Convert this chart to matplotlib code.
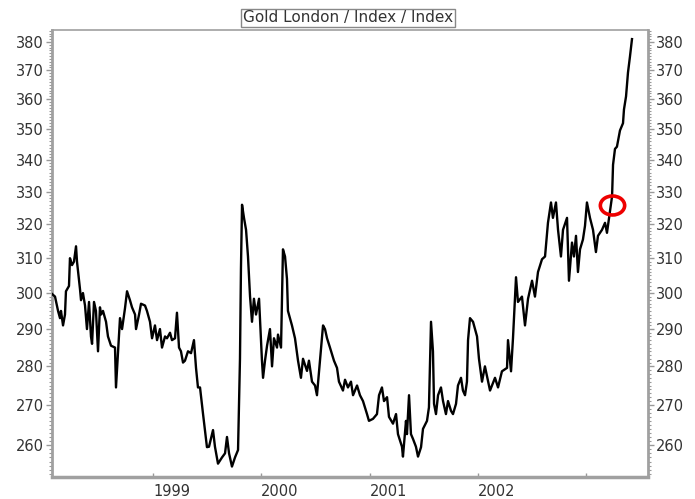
import matplotlib
matplotlib.use("Agg")
import matplotlib.pyplot as plt
from matplotlib.path import Path
from matplotlib.ticker import NullFormatter

# ---------------------------------------------------------------------------
# Gold London index (decimal year, index value)
# ---------------------------------------------------------------------------
DATES = [
    1998.058, 1998.095, 1998.123, 1998.141, 1998.150, 1998.169, 1998.187, 1998.196,
    1998.224, 1998.233, 1998.252, 1998.270, 1998.289, 1998.298, 1998.326, 1998.335,
    1998.353, 1998.372, 1998.390, 1998.409, 1998.427, 1998.437, 1998.455, 1998.473,
    1998.492, 1998.510, 1998.520, 1998.538, 1998.566, 1998.584, 1998.612, 1998.649,
    1998.658, 1998.677, 1998.695, 1998.714, 1998.741, 1998.760, 1998.787, 1998.806,
    1998.834, 1998.843, 1998.871, 1998.889, 1998.926, 1998.944, 1998.972, 1998.991,
    1999.018, 1999.037, 1999.064, 1999.083, 1999.111, 1999.129, 1999.157, 1999.175,
    1999.203, 1999.221, 1999.240, 1999.258, 1999.277, 1999.295, 1999.323, 1999.351,
    1999.378, 1999.397, 1999.415, 1999.434, 1999.462, 1999.498, 1999.517, 1999.554,
    1999.572, 1999.600, 1999.637, 1999.665, 1999.683, 1999.702, 1999.729, 1999.757,
    1999.785, 1999.803, 1999.812, 1999.822, 1999.840, 1999.859, 1999.877, 1999.896,
    1999.914, 1999.932, 1999.951, 1999.979, 2000.006, 2000.016, 2000.034, 2000.053,
    2000.080, 2000.099, 2000.117, 2000.145, 2000.154, 2000.182, 2000.200, 2000.219,
    2000.237, 2000.246, 2000.283, 2000.311, 2000.339, 2000.366, 2000.385, 2000.422,
    2000.440, 2000.468, 2000.496, 2000.514, 2000.542, 2000.570, 2000.588, 2000.607,
    2000.634, 2000.671, 2000.699, 2000.717, 2000.754, 2000.773, 2000.800, 2000.828,
    2000.847, 2000.884, 2000.911, 2000.939, 2000.976, 2000.994, 2001.031, 2001.068,
    2001.087, 2001.114, 2001.133, 2001.161, 2001.179, 2001.216, 2001.244, 2001.262,
    2001.299, 2001.308, 2001.336, 2001.345, 2001.364, 2001.382, 2001.401, 2001.428,
    2001.447, 2001.475, 2001.493, 2001.530, 2001.548, 2001.567, 2001.585, 2001.595,
    2001.613, 2001.632, 2001.659, 2001.678, 2001.705, 2001.724, 2001.752, 2001.770,
    2001.798, 2001.816, 2001.844, 2001.862, 2001.881, 2001.899, 2001.909, 2001.927,
    2001.955, 2001.992, 2002.010, 2002.038, 2002.065, 2002.112, 2002.158, 2002.186,
    2002.222, 2002.269, 2002.278, 2002.306, 2002.324, 2002.352, 2002.370, 2002.407,
    2002.435, 2002.463, 2002.500, 2002.527, 2002.555, 2002.592, 2002.620, 2002.647,
    2002.675, 2002.693, 2002.721, 2002.740, 2002.767, 2002.786, 2002.823, 2002.841,
    2002.869, 2002.887, 2002.906, 2002.924, 2002.943, 2002.970, 2002.989, 2003.007,
    2003.035, 2003.063, 2003.090, 2003.109, 2003.146, 2003.174, 2003.192, 2003.211,
    2003.239, 2003.248, 2003.266, 2003.284, 2003.312, 2003.340, 2003.349, 2003.368,
    2003.386, 2003.404, 2003.423,
]
VALUES = [
    300.0, 299.0, 295.0, 293.0, 295.0, 291.0, 294.0, 300.5,
    302.0, 310.0, 308.0, 309.0, 313.5, 309.0, 301.0, 298.0,
    300.0, 296.5, 290.0, 297.5, 288.0, 286.0, 297.5, 295.0,
    284.0, 296.0, 294.0, 295.0, 292.0, 288.0, 285.5, 285.0,
    274.5, 284.0, 293.0, 290.0, 295.7, 300.5, 298.0, 296.0,
    294.0, 290.0, 294.0, 297.0, 296.5, 295.0, 292.0, 287.5,
    291.0, 287.0, 290.0, 285.0, 288.0, 287.5, 289.0, 287.0,
    287.5, 294.5, 285.0, 284.0, 281.0, 281.5, 284.0, 283.5,
    287.0, 279.6, 274.5, 274.5, 267.7, 259.5, 259.6, 263.7,
    259.6, 255.5, 257.0, 258.0, 262.0, 258.0, 254.8, 257.0,
    258.8, 282.0, 307.0, 326.0, 322.0, 318.4, 310.5, 299.0,
    292.0, 298.4, 294.0, 298.4, 281.5, 277.0, 281.5, 285.5,
    290.0, 280.0, 287.5, 285.0, 288.5, 285.0, 312.6, 310.5,
    304.0, 295.0, 291.0, 287.5, 281.5, 277.0, 282.0, 278.8,
    281.5, 276.0, 275.0, 272.5, 281.5, 291.0, 290.0, 287.5,
    285.0, 281.5, 279.6, 276.0, 273.7, 276.5, 274.5, 276.0,
    272.5, 275.0, 272.5, 271.0, 267.7, 266.0, 266.5, 267.7,
    272.5, 274.5, 271.0, 272.0, 267.0, 265.3, 267.7, 262.7,
    259.6, 257.2, 266.0, 262.7, 272.5, 262.7, 261.5, 259.6,
    257.2, 259.5, 264.0, 266.0, 269.4, 292.0, 284.0, 270.3,
    267.7, 272.5, 274.5, 271.0, 267.7, 271.0, 268.5, 267.7,
    270.3, 275.0, 277.0, 273.7, 272.5, 276.0, 287.0, 293.0,
    292.0, 288.0, 282.0, 276.0, 280.0, 273.7, 277.0, 274.5,
    278.7, 279.6, 287.0, 278.7, 287.5, 304.5, 297.5, 299.0,
    291.0, 298.4, 303.5, 299.0, 306.0, 309.7, 310.5, 320.5,
    326.7, 322.0, 326.7, 318.4, 310.5, 318.4, 322.0, 303.5,
    314.6, 310.5, 316.6, 306.0, 312.6, 315.5, 319.6, 326.7,
    322.0, 318.4, 311.8, 316.6, 318.4, 320.5, 317.5, 322.0,
    328.6, 338.5, 343.6, 344.3, 349.6, 352.0, 356.6, 361.0,
    369.2, 374.7, 381.0,
]

HIGHLIGHT_DATE = 2003.239
HIGHLIGHT_VALUE = 326.0

Y_TICKS = list(range(260, 390, 10))
X_TICKS = [1999, 2000, 2001, 2002, 2003]
X_LABELS = ["1999", "2000", "2001", "2002", ""]
TITLE = "Gold London / Index / Index"

plt.rcParams["font.family"] = ["DejaVu Sans"]

fig = plt.figure(figsize=(6.95, 4.99), dpi=100)
ax = fig.add_axes([0.0748, 0.044, 0.8576, 0.896])

ax.plot(DATES, VALUES, color="black", lw=1.7, zorder=3)

# slightly flattened ring around the highlighted point
circ = Path.unit_circle()
oval = Path(circ.vertices * [1.0, 0.78], circ.codes)
ax.plot([HIGHLIGHT_DATE], [HIGHLIGHT_VALUE], marker=oval, ms=17.5, mfc="none",
        mec="#ee0000", mew=2.6, ls="none", zorder=4)

ax.set_yscale("log")
ax.set_ylim(252.3, 384.3)
ax.set_xlim(1998.067, 2003.571)

ax.set_yticks(Y_TICKS)
ax.set_yticklabels([str(v) for v in Y_TICKS])
ax.set_yticks(range(253, 385), minor=True)
ax.yaxis.set_minor_formatter(NullFormatter())
ax.set_xticks(X_TICKS)
ax.set_xticklabels(X_LABELS, ha="left")
ax.xaxis.set_minor_locator(plt.NullLocator())

ax.tick_params(axis="y", which="both", left=True, right=True,
               labelleft=True, labelright=True, direction="out",
               color="#999999", labelsize=10.5, labelcolor="#333333", pad=2)
ax.tick_params(axis="y", which="major", length=4, width=1)
ax.tick_params(axis="y", which="minor", length=2, width=0.8)
ax.tick_params(axis="x", length=3, width=1, color="#999999", direction="in",
               labelsize=10.5, labelcolor="#333333", pad=5)

for side, lw in [("left", 2), ("right", 2), ("bottom", 2.5), ("top", 1.2)]:
    ax.spines[side].set_color("#a0a0a0")
    ax.spines[side].set_linewidth(lw)

fig.text(0.501, 0.964, TITLE, ha="center", va="center", fontsize=11,
         color="#333333",
         bbox=dict(boxstyle="square,pad=0.12", fc="white", ec="#888888", lw=1))

fig.savefig("out.png", dpi=100)
